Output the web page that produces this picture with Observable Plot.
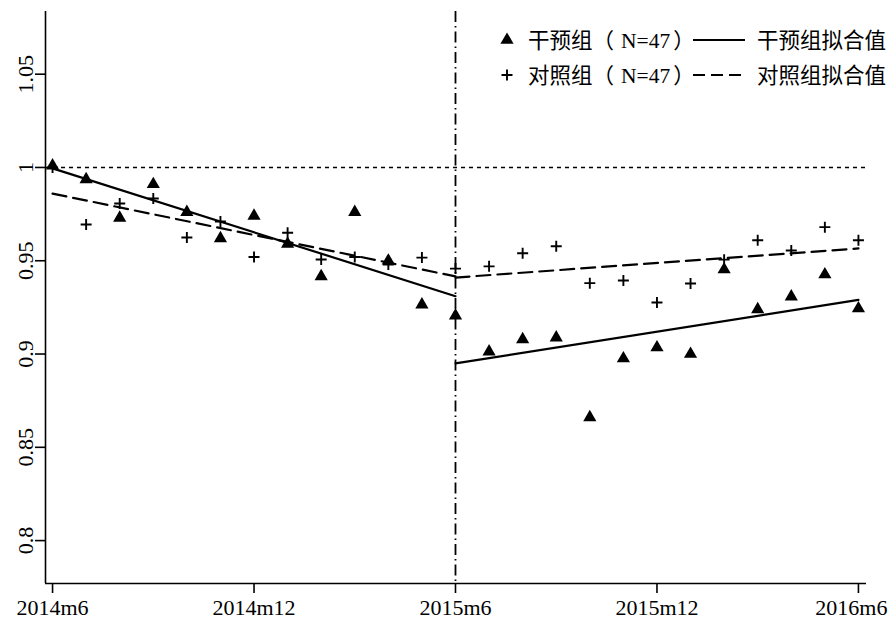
<!DOCTYPE html>
<html>
<head>
<meta charset="utf-8">
<script src="https://cdn.jsdelivr.net/npm/d3@7"></script>
<script src="https://cdn.jsdelivr.net/npm/@observablehq/plot@0.6"></script>
<style>
  html, body { margin: 0; padding: 0; background: #fff; }
  #chart svg { display: block; }
</style>
</head>
<body>
<div id="chart"></div>
<script>
// Month labels (index 0 = 2014m6 ... 24 = 2016m6)
const months = ["2014m6","2014m7","2014m8","2014m9","2014m10","2014m11","2014m12",
  "2015m1","2015m2","2015m3","2015m4","2015m5","2015m6","2015m7","2015m8","2015m9",
  "2015m10","2015m11","2015m12","2016m1","2016m2","2016m3","2016m4","2016m5","2016m6"];

// Intervention group (N=47) monthly values
const intervention = [1.001, 0.9936, 0.973, 0.991, 0.976, 0.962, 0.974, 0.959, 0.9416,
  0.976, 0.950, 0.9265, 0.9206, 0.9013, 0.9078, 0.9088, 0.866, 0.8976, 0.9035, 0.900,
  0.9453, 0.9239, 0.9308, 0.9426, 0.9244];

// Control group (N=47) monthly values
const control = [1.000, 0.9694, 0.9807, 0.9834, 0.9625, 0.971, 0.952, 0.965, 0.9507,
  0.952, 0.948, 0.9517, 0.9458, 0.947, 0.954, 0.9578, 0.938, 0.9394, 0.9276, 0.9378,
  0.9506, 0.961, 0.9555, 0.968, 0.961];

// Fitted segments: [startIndex, startValue, endIndex, endValue]
const fitInterventionPre  = [0, 0.9995, 12, 0.931];
const fitInterventionPost = [12, 0.895, 24, 0.929];
const fitControlPre       = [0, 0.986, 12, 0.9416];
const fitControlPost      = [12, 0.941, 24, 0.9566];

// Axis ticks
const xTicks = [0, 6, 12, 18, 24];
const yTicks = [0.8, 0.85, 0.9, 0.95, 1, 1.05];
const breakIndex = 12;
const refLine = 1;

// Legend texts
const legendGroups = ["干预组", "对照组"];
const legendN = "N=47";
const legendFit = ["干预组拟合值", "对照组拟合值"];

const xDomain = [-0.21, 24.24];
const yDomain = [0.777, 1.0836];

const ptsI = intervention.map((v, i) => ({x: i, y: v}));
const ptsC = control.map((v, i) => ({x: i, y: v}));
const seg = (s, z) => [{x: s[0], y: s[1], z}, {x: s[2], y: s[3], z}];
const fitI = [...seg(fitInterventionPre, "pre"), ...seg(fitInterventionPost, "post")];
const fitC = [...seg(fitControlPre, "pre"), ...seg(fitControlPost, "post")];

const plusSymbol = {
  draw(ctx, size) {
    const r = Math.sqrt(size / Math.PI);
    ctx.moveTo(-r, 0); ctx.lineTo(r, 0);
    ctx.moveTo(0, -r); ctx.lineTo(0, r);
  }
};

const serif = "'Liberation Serif', 'Times New Roman', serif";
const cjkFont = "'Noto Sans CJK SC', sans-serif";

const chart = Plot.plot({
  width: 891,
  height: 619,
  marginLeft: 45,
  marginRight: 25,
  marginTop: 11,
  marginBottom: 36,
  x: {domain: xDomain},
  y: {domain: yDomain},
  style: {fontFamily: serif, background: "#fff", color: "#000"},
  marks: [
    Plot.ruleY([refLine], {stroke: "#000", strokeWidth: 1.5, strokeDasharray: "4,4"}),
    Plot.ruleX([breakIndex], {stroke: "#000", strokeWidth: 1.8, strokeDasharray: "11,4,1.5,4"}),
    Plot.line(fitI, {x: "x", y: "y", z: "z", stroke: "#000", strokeWidth: 2.2}),
    Plot.line(fitC, {x: "x", y: "y", z: "z", stroke: "#000", strokeWidth: 2.2, strokeDasharray: "14,7"}),
    Plot.dot(ptsC, {x: "x", y: "y", symbol: plusSymbol, r: 5.5, stroke: "#000", strokeWidth: 1.9, fill: "none"}),
    Plot.dot(ptsI, {x: "x", y: "y", symbol: "triangle", r: 4.9, fill: "#000", stroke: "none"}),
    // axis lines
    Plot.ruleX([xDomain[0]], {stroke: "#000", strokeWidth: 1.6}),
    Plot.ruleY([yDomain[0]], {stroke: "#000", strokeWidth: 1.6}),
    // ticks
    Plot.axisX({ticks: xTicks, tickSize: 10, tickFormat: () => "", strokeWidth: 1.6, label: null}),
    Plot.axisY({ticks: yTicks, tickSize: 10, tickFormat: () => "", strokeWidth: 1.6, label: null}),
    // y tick labels (rotated)
    Plot.text(yTicks, {y: d => d, text: d => String(d), frameAnchor: "left", dx: -20,
      rotate: -90, fontSize: 22, fill: "#000", textAnchor: "middle", lineAnchor: "middle"}),
    // x tick labels
    Plot.text(xTicks.slice(0, -1), {x: d => d, text: d => months[d], frameAnchor: "bottom",
      dy: 24, fontSize: 22, fill: "#000", textAnchor: "middle", lineAnchor: "middle"}),
    Plot.text(xTicks.slice(-1), {x: d => d, text: d => months[d], frameAnchor: "bottom",
      dy: 24, dx: 29, fontSize: 22, fill: "#000", textAnchor: "end", lineAnchor: "middle"})
  ]
});

// Legend inside plot (top right)
const svg = d3.select(chart);
const lg = svg.append("g").attr("font-size", 21.5)
  .attr("fill", "#000").attr("text-anchor", "start");
const rows = [
  {y: 40, sym: "tri", dash: null},
  {y: 75, sym: "plus", dash: "12,6"}
];
rows.forEach((r, k) => {
  if (r.sym === "tri") {
    lg.append("path").attr("transform", `translate(507,${r.y})`)
      .attr("d", d3.symbol(d3.symbolTriangle, Math.PI * 4.9 * 4.9)()).attr("fill", "#000");
  } else {
    lg.append("path").attr("transform", `translate(507,${r.y})`)
      .attr("d", "M-5.5,0H5.5M0,-5.5V5.5").attr("stroke", "#000").attr("stroke-width", 1.9).attr("fill", "none");
  }
  const t = lg.append("text").attr("x", 528).attr("y", r.y).attr("dy", "0.35em").attr("text-anchor", "start");
  t.append("tspan").attr("font-family", cjkFont).text(legendGroups[k]);
  t.append("tspan").attr("font-family", cjkFont).text("（");
  t.append("tspan").attr("font-family", serif).attr("dx", 7).text(legendN);
  t.append("tspan").attr("font-family", cjkFont).attr("dx", 3).text("）");
  const ln = lg.append("line").attr("x1", 693).attr("x2", 745).attr("y1", r.y).attr("y2", r.y)
    .attr("stroke", "#000").attr("stroke-width", 2.2);
  if (r.dash) ln.attr("stroke-dasharray", r.dash);
  lg.append("text").attr("x", 757).attr("y", r.y).attr("dy", "0.35em")
    .attr("font-family", cjkFont).attr("text-anchor", "start").text(legendFit[k]);
});

document.getElementById("chart").appendChild(chart);
</script>
</body>
</html>
